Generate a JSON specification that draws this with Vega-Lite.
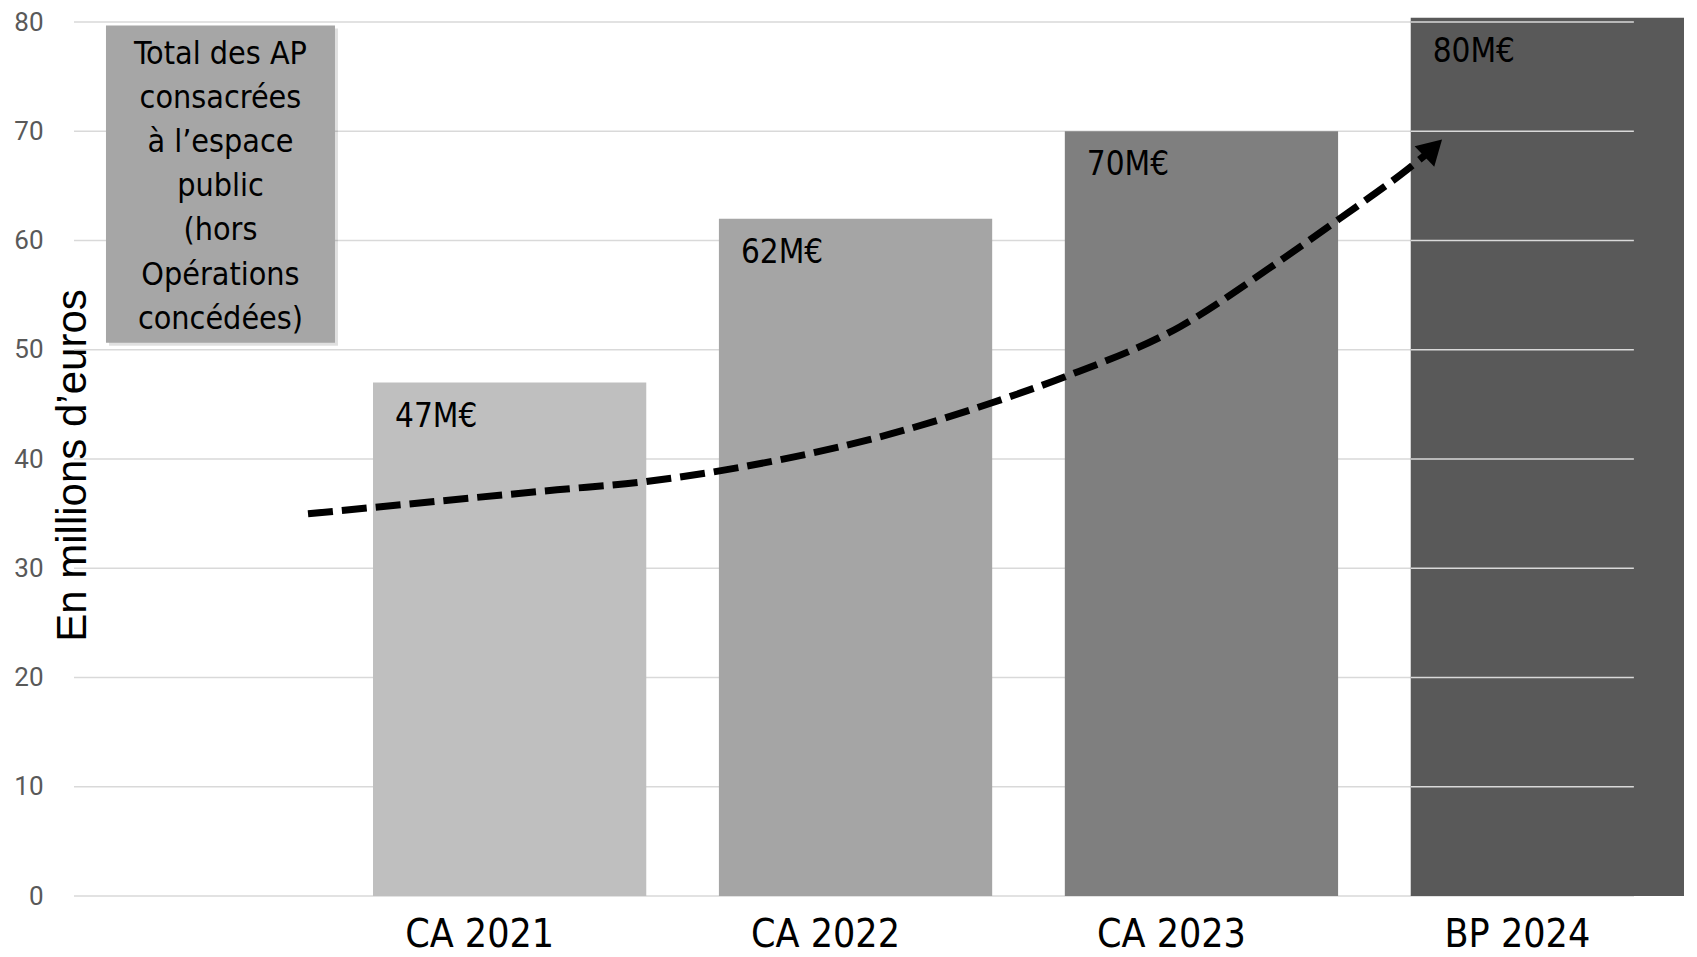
{
  "$schema": "https://vega.github.io/schema/vega-lite/v6.json",
  "width": 1560,
  "height": 874,
  "autosize": {"type": "none"},
  "padding": {"left": 74, "top": 22, "right": 63, "bottom": 61},
  "background": "white",
  "config": {
    "view": {"stroke": null},
    "axisY": {
      "domain": false, "ticks": false, "grid": false,
      "labelFont": "Roboto", "labelFontSize": 26, "labelColor": "#595959", "labelPadding": 31,
      "titleFont": "Liberation Sans", "titleFontSize": 42, "titleFontWeight": "normal", "titleColor": "#000000",
      "titleAngle": 270, "titleX": 11, "titleY": 443, "titleAlign": "center", "titleBaseline": "alphabetic"
    }
  },
  "datasets": {
    "budget": [
      {"poste": "CA 2021", "montant": 47, "etiquette": "47M€"},
      {"poste": "CA 2022", "montant": 62, "etiquette": "62M€"},
      {"poste": "CA 2023", "montant": 70, "etiquette": "70M€"},
      {"poste": "BP 2024", "montant": 80.4, "etiquette": "80M€"}
    ],
    "niveaux": [
      {"niveau": 0}, {"niveau": 10}, {"niveau": 20}, {"niveau": 30}, {"niveau": 40},
      {"niveau": 50}, {"niveau": 60}, {"niveau": 70}, {"niveau": 80}
    ],
    "grille": [
      {"poste": "BP 2024", "niveau": 10},
      {"poste": "BP 2024", "niveau": 20},
      {"poste": "BP 2024", "niveau": 30},
      {"poste": "BP 2024", "niveau": 40},
      {"poste": "BP 2024", "niveau": 50},
      {"poste": "BP 2024", "niveau": 60},
      {"poste": "BP 2024", "niveau": 70},
      {"poste": "BP 2024", "niveau": 80}
    ],
    "tendance": [
      {"t": 15.0, "v": 34.98},
      {"t": 30.96, "v": 37.18},
      {"t": 36.47, "v": 37.91},
      {"t": 45.26, "v": 39.93},
      {"t": 51.67, "v": 42.03},
      {"t": 58.85, "v": 45.15},
      {"t": 63.53, "v": 47.53},
      {"t": 70.9, "v": 52.11},
      {"t": 76.67, "v": 57.51},
      {"t": 81.03, "v": 61.9},
      {"t": 85.45, "v": 66.48},
      {"t": 86.73, "v": 67.95}
    ],
    "fleche": [{"t": 87.13, "v": 68.47}],
    "note": [
      {"texte": "Total des AP\nconsacrées\nà l’espace\npublic\n(hors\nOpérations\nconcédées)", "x1": 2.05, "x2": 16.73, "y1": 79.67, "y2": 50.64, "xt": 9.39, "yt": 77.1}
    ]
  },
  "layer": [
    {
      "data": {"name": "niveaux"},
      "mark": {"type": "rule", "color": "#d9d9d9", "strokeWidth": 1.5},
      "encoding": {
        "y": {"field": "niveau", "type": "quantitative", "title": "En millions d’euros", "scale": {"domain": [0, 80], "nice": false}}
      }
    },
    {
      "data": {"name": "budget"},
      "mark": {"type": "bar"},
      "encoding": {
        "x": {
          "field": "poste", "type": "nominal", "sort": null,
          "scale": {"type": "band", "domain": ["CA 2021", "CA 2022", "CA 2023", "BP 2024"], "range": [299, 1610], "paddingInner": 0.21, "paddingOuter": 0},
          "axis": {"title": null, "domain": false, "ticks": false, "grid": false, "labelAngle": 0, "labelFont": "DejaVu Sans Condensed", "labelFontSize": 39, "labelColor": "#000000", "labelPadding": 19, "labelOffset": -30}
        },
        "y": {
          "field": "montant", "type": "quantitative", "title": "En millions d’euros",
          "scale": {"domain": [0, 80], "nice": false},
          "axis": {"values": [0, 10, 20, 30, 40, 50, 60, 70, 80], "title": "En millions d’euros", "grid": false}
        },
        "color": {
          "field": "poste", "type": "nominal",
          "scale": {"domain": ["CA 2021", "CA 2022", "CA 2023", "BP 2024"], "range": ["#bfbfbf", "#a5a5a5", "#7f7f7f", "#595959"]},
          "legend": null
        }
      }
    },
    {
      "data": {"name": "grille"},
      "mark": {"type": "tick", "color": "#d9d9d9", "thickness": 1.5, "size": 223, "xOffset": -25, "opacity": 1},
      "encoding": {
        "x": {"field": "poste", "type": "nominal", "sort": null, "scale": {"type": "band", "domain": ["CA 2021", "CA 2022", "CA 2023", "BP 2024"], "range": [299, 1610], "paddingInner": 0.21, "paddingOuter": 0}, "axis": null},
        "y": {"field": "niveau", "type": "quantitative", "title": "En millions d’euros", "scale": {"domain": [0, 80], "nice": false}}
      }
    },
    {
      "data": {"name": "budget"},
      "mark": {"type": "text", "align": "left", "baseline": "middle", "dx": 22, "dy": 34, "font": "DejaVu Sans Condensed", "fontSize": 33, "color": "#000000"},
      "encoding": {
        "x": {"field": "poste", "type": "nominal", "sort": null, "bandPosition": 0, "scale": {"type": "band", "domain": ["CA 2021", "CA 2022", "CA 2023", "BP 2024"], "range": [299, 1610], "paddingInner": 0.21, "paddingOuter": 0}, "axis": null},
        "y": {"field": "montant", "type": "quantitative", "title": "En millions d’euros", "scale": {"domain": [0, 80], "nice": false}},
        "text": {"field": "etiquette", "type": "nominal"}
      }
    },
    {
      "data": {"name": "note"},
      "mark": {"type": "rect", "color": "#000000", "opacity": 0.12, "xOffset": 3, "x2Offset": 3, "yOffset": 3, "y2Offset": 3},
      "encoding": {
        "x": {"field": "x1", "type": "quantitative", "scale": {"domain": [0, 100], "nice": false, "zero": false}, "axis": null},
        "x2": {"field": "x2"},
        "y": {"field": "y1", "type": "quantitative", "title": "En millions d’euros", "scale": {"domain": [0, 80], "nice": false}},
        "y2": {"field": "y2"}
      }
    },
    {
      "data": {"name": "note"},
      "mark": {"type": "rect", "color": "#a6a6a6"},
      "encoding": {
        "x": {"field": "x1", "type": "quantitative", "scale": {"domain": [0, 100], "nice": false, "zero": false}, "axis": null},
        "x2": {"field": "x2"},
        "y": {"field": "y1", "type": "quantitative", "title": "En millions d’euros", "scale": {"domain": [0, 80], "nice": false}},
        "y2": {"field": "y2"}
      }
    },
    {
      "data": {"name": "note"},
      "mark": {"type": "text", "align": "center", "baseline": "middle", "lineBreak": "\n", "lineHeight": 44.2, "font": "DejaVu Sans Condensed", "fontSize": 32, "color": "#000000"},
      "encoding": {
        "x": {"field": "xt", "type": "quantitative", "scale": {"domain": [0, 100], "nice": false, "zero": false}, "axis": null},
        "y": {"field": "yt", "type": "quantitative", "title": "En millions d’euros", "scale": {"domain": [0, 80], "nice": false}},
        "text": {"field": "texte", "type": "nominal"}
      }
    },
    {
      "data": {"name": "tendance"},
      "mark": {"type": "line", "interpolate": "monotone", "strokeDash": [25, 9], "strokeWidth": 7, "strokeCap": "butt", "color": "#000000"},
      "encoding": {
        "x": {"field": "t", "type": "quantitative", "scale": {"domain": [0, 100], "nice": false, "zero": false}, "axis": null},
        "y": {"field": "v", "type": "quantitative", "title": "En millions d’euros", "scale": {"domain": [0, 80], "nice": false}}
      }
    },
    {
      "data": {"name": "fleche"},
      "mark": {"type": "point", "shape": "triangle-up", "filled": true, "color": "#000000", "opacity": 1, "size": 800, "angle": 46},
      "encoding": {
        "x": {"field": "t", "type": "quantitative", "scale": {"domain": [0, 100], "nice": false, "zero": false}, "axis": null},
        "y": {"field": "v", "type": "quantitative", "title": "En millions d’euros", "scale": {"domain": [0, 80], "nice": false}}
      }
    }
  ],
  "resolve": {"scale": {"x": "independent"}}
}
